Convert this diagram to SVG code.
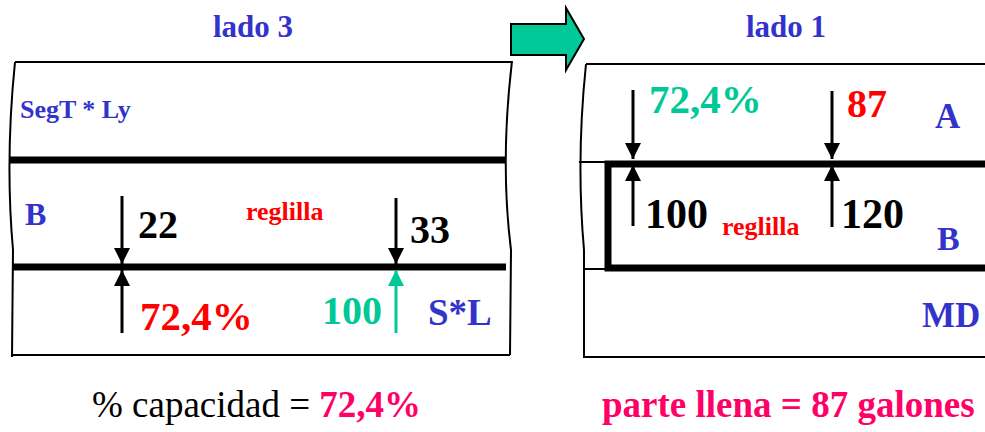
<svg xmlns="http://www.w3.org/2000/svg" width="985" height="432" viewBox="0 0 985 432" font-family="'Liberation Serif', 'Times New Roman', serif">
<style>
text{font-family:'Liberation Serif','Times New Roman',serif}
.b{font-weight:bold}
.n{font-weight:normal}
.blue{fill:#3333CC}
.red{fill:#FF0000}
.teal{fill:#00C896}
.blk{fill:#000}
.mag{fill:#FF0066}
.thin{fill:none;stroke:#000;stroke-width:2}
.thick{fill:none;stroke:#000;stroke-width:7}
.arr{stroke:#000;stroke-width:3}
.arrt{stroke:#00C896;stroke-width:3}
</style>
<defs>
<marker id="ah" viewBox="0 0 16 16" refX="16" refY="8" markerWidth="16" markerHeight="16" markerUnits="userSpaceOnUse" orient="auto"><path d="M0,0 L16,8 L0,16 z" fill="#000"/></marker>
<marker id="aht" viewBox="0 0 16 16" refX="16" refY="8" markerWidth="16" markerHeight="16" markerUnits="userSpaceOnUse" orient="auto"><path d="M0,0 L16,8 L0,16 z" fill="#00C896"/></marker>
</defs>
<rect width="985" height="432" fill="#fff"/>

<g id="lado3">
<text class="b blue" x="213" y="37" font-size="31">lado 3</text>
<path class="thin" d="M15,62 L512,62"/>
<path class="thin" d="M15,62 Q5,160 13,250 L12,357"/>
<path class="thin" d="M512,61 Q500,163 511,250 L510,355"/>
<path class="thin" d="M12,355 L510,355"/>
<path class="thick" d="M10,160 L505,160"/>
<path class="thick" d="M12,267 L506,267"/>
<text class="b blue" x="20" y="118" font-size="26">SegT * Ly</text>
<text class="b blue" x="25" y="225" font-size="32">B</text>
<text class="b blk" x="138" y="238" font-size="40">22</text>
<text class="b red" x="246" y="220" font-size="26">reglilla</text>
<text class="b blk" x="410" y="243" font-size="40">33</text>
<text class="b red" x="140" y="330" font-size="41">72,4%</text>
<text class="b teal" x="322" y="324" font-size="40">100</text>
<text class="b blue" x="428" y="325" font-size="37">S*L</text>
</g>

<g id="flecha">
<path d="M511,24 L566,24 L566,8 L584,39 L566,70 L566,55 L511,55 z" fill="#00C896" stroke="#000" stroke-width="2" stroke-linejoin="miter"/>
</g>

<g id="lado1">
<text class="b blue" x="746" y="37" font-size="31">lado 1</text>
<path class="thin" d="M586,64 L985,64"/>
<path class="thin" d="M586,64 Q576,160 584,250 L584,358"/>
<path class="thin" d="M584,357 L985,357"/>
<path class="thin" d="M579,162 L608,162"/>
<path class="thin" d="M583,269 L608,269"/>
<path class="thick" d="M990,164 L608,164 L608,268 L990,268"/>
<text class="b teal" x="649" y="113" font-size="41">72,4%</text>
<text class="b red" x="847" y="117" font-size="40">87</text>
<text class="b blue" x="935" y="128" font-size="35">A</text>
<text class="b blk" x="645" y="228" font-size="42">100</text>
<text class="b red" x="722" y="235" font-size="26">reglilla</text>
<text class="b blk" x="841" y="228" font-size="42">120</text>
<text class="b blue" x="937" y="250" font-size="34">B</text>
<text class="b blue" x="922" y="327" font-size="35">MD</text>
</g>

<g id="conectores">
<line class="arr" x1="122" y1="196" x2="122" y2="264" marker-end="url(#ah)"/>
<line class="arr" x1="122" y1="333" x2="122" y2="270" marker-end="url(#ah)"/>
<line class="arr" x1="396" y1="198" x2="396" y2="264" marker-end="url(#ah)"/>
<line class="arrt" x1="396" y1="333" x2="396" y2="270" marker-end="url(#aht)"/>
<line class="arr" x1="633" y1="90" x2="633" y2="159" marker-end="url(#ah)"/>
<line class="arr" x1="633" y1="226" x2="633" y2="165" marker-end="url(#ah)"/>
<line class="arr" x1="832" y1="91" x2="832" y2="159" marker-end="url(#ah)"/>
<line class="arr" x1="832" y1="227" x2="832" y2="165" marker-end="url(#ah)"/>
</g>

<g id="resultados">
<text class="n blk" x="92" y="417" font-size="37">% capacidad = <tspan class="b mag">72,4%</tspan></text>
<text class="b mag" x="602" y="417" font-size="37">parte llena = 87 galones</text>
</g>
</svg>
